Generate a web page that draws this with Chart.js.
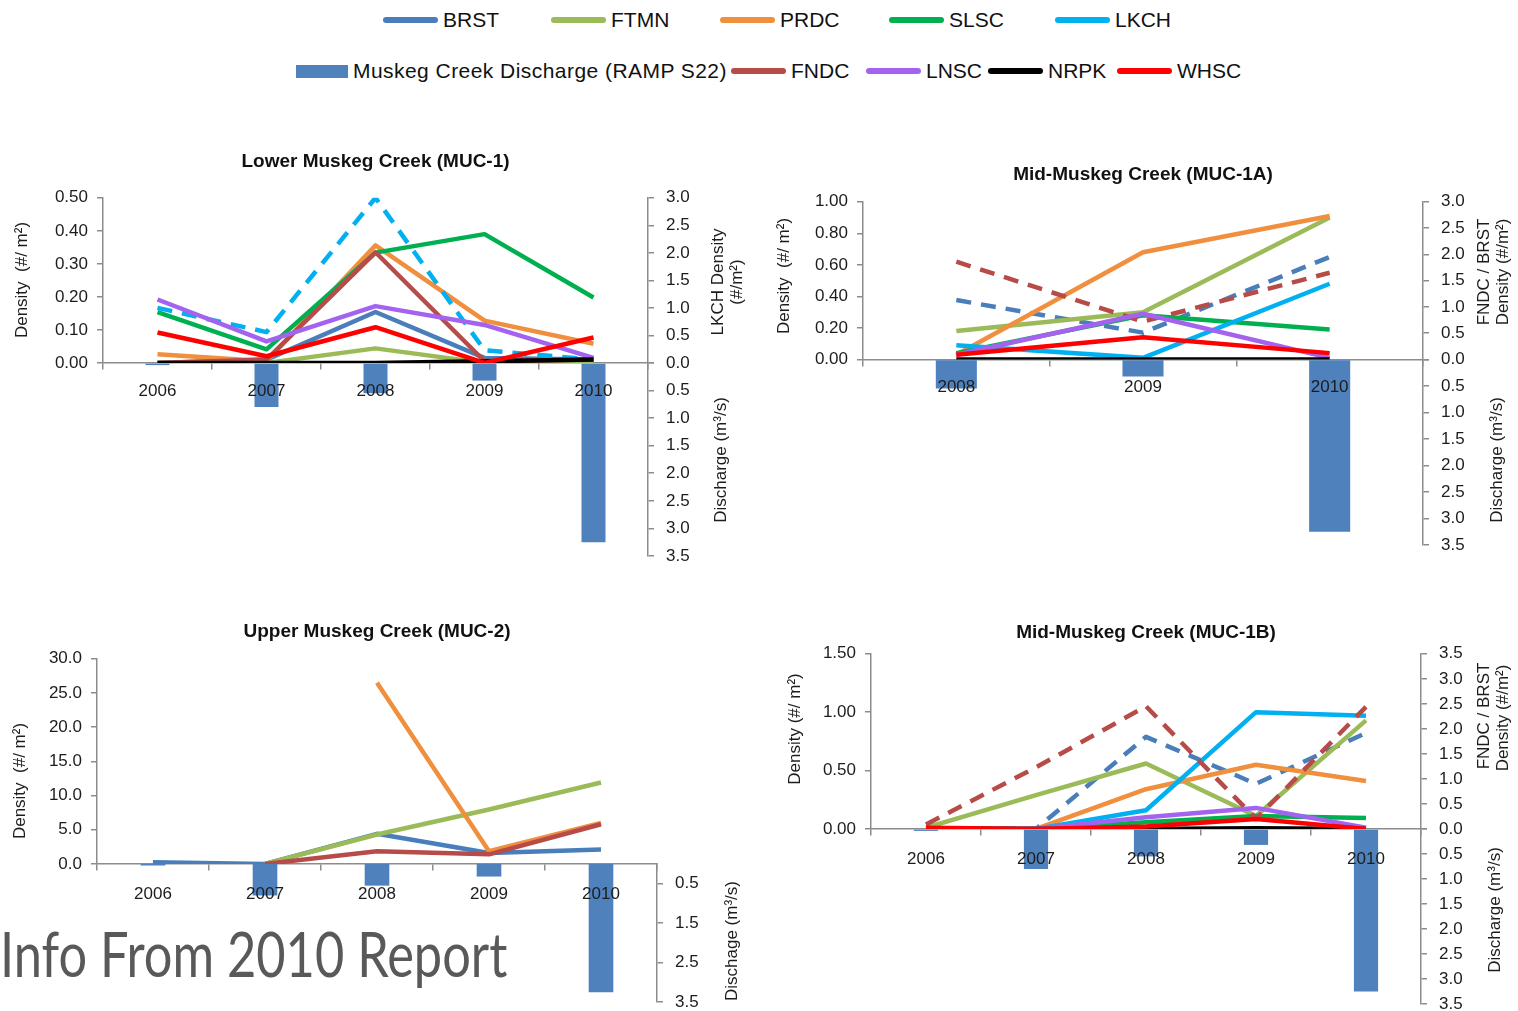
<!DOCTYPE html>
<html>
<head>
<meta charset="utf-8">
<script src="https://cdn.jsdelivr.net/npm/chart.js@4.4.1/dist/chart.umd.min.js"></script>
<style>
  body { margin: 0; background: #fff; width: 1518px; height: 1011px; overflow: hidden; position: relative;
         font-family: "Liberation Sans", Arial, sans-serif; }
  canvas { position: absolute; }
  .leg { position: absolute; height: 26px; display: flex; align-items: center; font-size: 21px; color: #111; white-space: nowrap; }
  .sw { display: inline-block; height: 6px; width: 55px; border-radius: 3px; margin-right: 5px; }
  .sw.bar { height: 13px; width: 52px; border-radius: 0; }
  .wide { letter-spacing: 0.45px; }
  #note { position: absolute; left: 0; top: 922px; font-family: Lato, sans-serif; font-size: 62px; line-height: 62px;
          color: #595959; transform-origin: left top; white-space: nowrap; z-index: 5; }
</style>
</head>
<body>
<div id="note">Info From 2010 Report</div>
<script>
// ---- data ----
const years = ['2006', '2007', '2008', '2009', '2010'];
const yearsA = ['2008', '2009', '2010'];

// Muskeg Creek discharge, RAMP S22 (m3/s)
const discharge = [0.04, 0.80, 0.55, 0.32, 3.25];
const dischargeA = [0.55, 0.32, 3.25];

// Lower Muskeg Creek (MUC-1), density #/m2 (LKCH on right axis)
const muc1_BRST = [0, 0.01, 0.154, 0.015, 0.01];
const muc1_FTMN = [0, 0, 0.044, 0, 0.005];
const muc1_PRDC = [0.026, 0.005, 0.356, 0.128, 0.058];
const muc1_SLSC = [0.154, 0.041, 0.334, 0.39, 0.198];
const muc1_LKCH = [1.0, 0.56, 3.0, 0.23, 0.06];
const muc1_FNDC = [0, 0.01, 0.335, 0.005, 0.01];
const muc1_LNSC = [0.192, 0.065, 0.172, 0.115, 0.015];
const muc1_NRPK = [0, 0, 0, 0.005, 0.01];
const muc1_WHSC = [0.092, 0.02, 0.108, 0, 0.077];

// Mid-Muskeg Creek (MUC-1A) (FNDC, BRST on right axis)
const mucA_BRST = [1.13, 0.51, 1.95];
const mucA_FNDC = [1.86, 0.72, 1.65];
const mucA_FTMN = [0.18, 0.30, 0.90];
const mucA_PRDC = [0.03, 0.68, 0.91];
const mucA_SLSC = [0.04, 0.28, 0.19];
const mucA_LKCH = [0.09, 0.01, 0.48];
const mucA_LNSC = [0.03, 0.29, 0.01];
const mucA_NRPK = [0, 0, 0];
const mucA_WHSC = [0.03, 0.14, 0.04];

// Upper Muskeg Creek (MUC-2)
const muc2_BRST = [0.25, 0, 4.4, 1.6, 2.1];
const muc2_FTMN = [null, 0, 4.3, 7.95, 11.9];
const muc2_PRDC = [null, null, 26.5, 1.85, 6.0];
const muc2_FNDC = [null, 0, 1.85, 1.4, 5.8];

// Mid-Muskeg Creek (MUC-1B) (FNDC, BRST on right axis)
const mucB_BRST = [0.02, 0, 1.84, 0.9, 1.92];
const mucB_FNDC = [0.09, 1.23, 2.45, 0.2, 2.44];
const mucB_FTMN = [0.01, 0.29, 0.56, 0.11, 0.93];
const mucB_PRDC = [0, 0, 0.34, 0.55, 0.41];
const mucB_SLSC = [0, 0, 0.057, 0.11, 0.094];
const mucB_LKCH = [0, 0, 0.16, 1.0, 0.97];
const mucB_LNSC = [0, 0, 0.10, 0.18, 0.01];
const mucB_NRPK = [0, 0, 0, 0.005, 0];
const mucB_WHSC = [0.01, 0, 0.02, 0.085, 0];

// tick values
const q2Ticks = [0.5, 1.5, 2.5, 3.5];

const SERIES = ['BRST', 'FTMN', 'PRDC', 'SLSC', 'LKCH', 'FNDC', 'LNSC', 'NRPK', 'WHSC'];
const Q_LABEL = 'Muskeg Creek Discharge (RAMP S22)';

// ---- styling ----
const COLORS = {
  BRST: '#4A7EBB', FTMN: '#9BBB59', PRDC: '#F0903F', SLSC: '#00B050', LKCH: '#00B0F0',
  FNDC: '#B64B48', LNSC: '#A463EE', NRPK: '#000000', WHSC: '#FF0000', Q: '#4F81BD'
};
const AX = '#8c8c8c';
const TXT = '#1c1c1c';
const FONT = '"Liberation Sans", Arial, sans-serif';

Chart.defaults.font.family = FONT;
Chart.defaults.color = TXT;

// legend (shared by the four panels)
const legendPos = {
  BRST: [383, 20], FTMN: [551, 20], PRDC: [720, 20], SLSC: [889, 20], LKCH: [1055, 20],
  Q: [296, 71], FNDC: [731, 71], LNSC: [866, 71], NRPK: [988, 71], WHSC: [1117, 71]
};
for (const key of ['Q'].concat(SERIES))
{
  const p = legendPos[key];
  const d = document.createElement('div');
  d.className = 'leg';
  d.style.left = p[0] + 'px';
  d.style.top = (p[1] - 13) + 'px';
  d.innerHTML = '<span class="sw' + (key == 'Q' ? ' bar' : '') + '" style="background:' + COLORS[key] + '"></span>' +
    '<span' + (key == 'Q' ? ' class="wide"' : '') + '>' + (key == 'Q' ? Q_LABEL : key) + '</span>';
  document.body.appendChild(d);
}

function lineSet(name, data, axis, dashed)
{
  return {
    type: 'line', label: name, data: data, yAxisID: axis || 'y',
    borderColor: COLORS[name], backgroundColor: COLORS[name], borderWidth: 4.5,
    borderDash: dashed ? [15, 10] : [], pointRadius: 0, tension: 0, fill: false,
    borderJoinStyle: 'round', order: 20 - SERIES.indexOf(name)
  };
}

function barSet(data)
{
  return {
    type: 'bar', label: Q_LABEL, data: data, yAxisID: 'yQ', backgroundColor: COLORS.Q,
    barPercentage: 0.22, categoryPercentage: 1, order: 50
  };
}

// rotated axis titles (read bottom to top, like the report)
const sideTitles = {
  id: 'sideTitles',
  afterDraw(chart, args, opts)
  {
    const ctx = chart.ctx;
    ctx.save();
    ctx.fillStyle = TXT;
    ctx.font = '17px ' + FONT;
    ctx.textAlign = 'center';
    ctx.textBaseline = 'middle';
    for (const t of opts.items)
    {
      ctx.save();
      ctx.translate(t.x, t.y);
      ctx.rotate(-Math.PI / 2);
      ctx.fillText(t.text, 0, 0);
      ctx.restore();
    }
    ctx.restore();
  }
};

const PANELS = [
  {
    box: [0, 140, 760, 440], title: 'Lower Muskeg Creek (MUC-1)', titlePad: [10, 25], padBottom: 24,
    labels: years, leftW: 103, rightW: 112, weights: [165, 193], xPad: 12,
    left: { max: 0.5, step: 0.1, dec: 2 }, right: { max: 3.0 },
    datasets: [
      lineSet('BRST', muc1_BRST), lineSet('FTMN', muc1_FTMN), lineSet('PRDC', muc1_PRDC),
      lineSet('SLSC', muc1_SLSC), lineSet('LKCH', muc1_LKCH, 'yR', true), lineSet('FNDC', muc1_FNDC),
      lineSet('LNSC', muc1_LNSC), lineSet('NRPK', muc1_NRPK), lineSet('WHSC', muc1_WHSC), barSet(discharge)
    ],
    titles: [
      { text: 'Density  (#/ m²)', x: 22, y: 280 },
      { text: 'LKCH Density', x: 718, y: 282 }, { text: '(#/m²)', x: 737, y: 282 },
      { text: 'Discharge (m³/s)', x: 721, y: 460 }
    ]
  },
  {
    box: [760, 150, 758, 420], title: 'Mid-Muskeg Creek (MUC-1A)', titlePad: [13, 16], padBottom: 25,
    labels: yearsA, leftW: 103, rightW: 95, weights: [158, 186], xPad: 12,
    left: { max: 1.0, step: 0.2, dec: 2 }, right: { max: 3.0 },
    datasets: [
      lineSet('BRST', mucA_BRST, 'yR', true), lineSet('FTMN', mucA_FTMN), lineSet('PRDC', mucA_PRDC),
      lineSet('SLSC', mucA_SLSC), lineSet('LKCH', mucA_LKCH), lineSet('FNDC', mucA_FNDC, 'yR', true),
      lineSet('LNSC', mucA_LNSC), lineSet('NRPK', mucA_NRPK), lineSet('WHSC', mucA_WHSC), barSet(dischargeA)
    ],
    titles: [
      { text: 'Density  (#/ m²)', x: 784, y: 276 },
      { text: 'FNDC / BRST', x: 1484, y: 272 }, { text: 'Density (#/m²)', x: 1503, y: 272 },
      { text: 'Discharge (m³/s)', x: 1497, y: 460 }
    ]
  },
  {
    box: [0, 610, 760, 420], title: 'Upper Muskeg Creek (MUC-2)', titlePad: [10, 16], padBottom: 28,
    labels: years, leftW: 97, rightW: 103, weights: [205, 138], xPad: 14,
    left: { max: 30, step: 5, dec: 1 }, right: null, qTicks: q2Ticks,
    datasets: [
      lineSet('BRST', muc2_BRST), lineSet('FTMN', muc2_FTMN), lineSet('PRDC', muc2_PRDC),
      lineSet('FNDC', muc2_FNDC), barSet(discharge)
    ],
    titles: [
      { text: 'Density  (#/ m²)', x: 20, y: 781 },
      { text: 'Dischage (m³/s)', x: 732, y: 941 }
    ]
  },
  {
    box: [760, 610, 758, 420], title: 'Mid-Muskeg Creek (MUC-1B)', titlePad: [11, 10], padBottom: 26,
    labels: years, leftW: 111, rightW: 97, weights: [175, 175], xPad: 14,
    left: { max: 1.5, step: 0.5, dec: 2 }, right: { max: 3.5 },
    datasets: [
      lineSet('BRST', mucB_BRST, 'yR', true), lineSet('FTMN', mucB_FTMN), lineSet('PRDC', mucB_PRDC),
      lineSet('SLSC', mucB_SLSC), lineSet('LKCH', mucB_LKCH), lineSet('FNDC', mucB_FNDC, 'yR', true),
      lineSet('LNSC', mucB_LNSC), lineSet('NRPK', mucB_NRPK), lineSet('WHSC', mucB_WHSC), barSet(discharge)
    ],
    titles: [
      { text: 'Density (#/ m²)', x: 795, y: 729 },
      { text: 'FNDC / BRST', x: 1484, y: 716 }, { text: 'Density (#/m²)', x: 1503, y: 718 },
      { text: 'Discharge (m³/s)', x: 1495, y: 910 }
    ]
  }
];

const tickFont = { size: 17 };
const axisGrid = { drawOnChartArea: false, tickLength: 6, color: AX, lineWidth: 1.5 };
const axisBorder = { color: AX, width: 1.5 };

for (const p of PANELS)
{
  const canvas = document.createElement('canvas');
  canvas.width = p.box[2];
  canvas.height = p.box[3];
  canvas.style.left = p.box[0] + 'px';
  canvas.style.top = p.box[1] + 'px';
  document.body.appendChild(canvas);

  const rightTicks = {
    stepSize: 0.5, padding: 12, font: tickFont, color: TXT, autoSkip: false,
    callback: v => v.toFixed(1)
  };

  new Chart(canvas.getContext('2d'),
  {
    type: 'bar',
    data: { labels: p.labels, datasets: p.datasets },
    plugins: [sideTitles],
    options:
    {
      responsive: false,
      animation: false,
      layout: { padding: { left: 0, right: 0, top: 0, bottom: p.padBottom } },
      plugins:
      {
        legend: { display: false },
        tooltip: { enabled: false },
        title:
        {
          display: true, text: p.title, fullSize: false, color: '#111',
          font: { size: 19, weight: 'bold' },
          padding: { top: p.titlePad[0], bottom: p.titlePad[1] }
        },
        sideTitles:
        {
          items: p.titles.map(t => ({ text: t.text, x: t.x - p.box[0], y: t.y - p.box[1] }))
        }
      },
      scales:
      {
        x:
        {
          type: 'category', position: { y: 0 }, offset: true,
          grid: { offset: true, drawOnChartArea: false, tickLength: 6, color: AX, lineWidth: 1.5 },
          border: axisBorder,
          ticks: { font: tickFont, color: TXT, padding: p.xPad, maxRotation: 0, autoSkip: false, z: 1 }
        },
        y:
        {
          position: 'left', stack: 'L', stackWeight: p.weights[0], weight: 2,
          min: 0, max: p.left.max,
          ticks: { stepSize: p.left.step, padding: 9, font: tickFont, color: TXT, autoSkip: false,
                   callback: v => v.toFixed(p.left.dec) },
          grid: axisGrid, border: axisBorder,
          afterFit: s => { s.width = p.leftW; }
        },
        yLow:
        {
          position: 'left', stack: 'L', stackWeight: p.weights[1], weight: 1, display: false
        },
        yR:
        {
          position: 'right', stack: 'R', stackWeight: p.weights[0], weight: 1,
          display: !!p.right, min: 0, max: p.right ? p.right.max : 1,
          ticks: rightTicks, grid: axisGrid, border: axisBorder,
          afterFit: s => { s.width = p.right ? p.rightW : 0; }
        },
        yQ:
        {
          position: 'right', stack: 'R', stackWeight: p.weights[1], weight: 2,
          reverse: true, min: 0, max: 3.5,
          ticks: Object.assign({}, rightTicks, { callback: v => v === 0 ? '' : v.toFixed(1) }),
          afterBuildTicks: s => { if (p.qTicks) s.ticks = p.qTicks.map(v => ({ value: v })); },
          grid: axisGrid, border: axisBorder,
          afterFit: s => { s.width = p.rightW; }
        }
      }
    }
  });
}

// fit the big note to the width it has in the report
const note = document.getElementById('note');
note.style.transform = 'scaleX(' + (507 / note.offsetWidth) + ')';
</script>
</body>
</html>
